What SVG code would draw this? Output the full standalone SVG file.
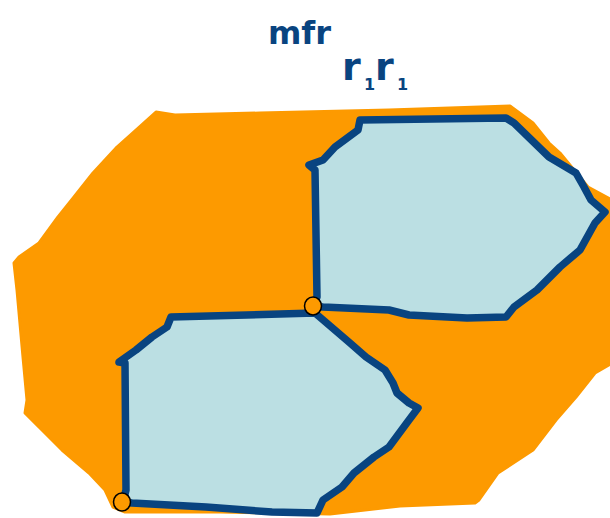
<svg xmlns="http://www.w3.org/2000/svg" width="610" height="518" viewBox="0 0 610 518">
<style>
.blob{fill:#fd9a00;stroke:#fd9a00;stroke-width:3;stroke-linejoin:round}
.cell{fill:#bbdfe3;stroke:#094480;stroke-width:7.5;stroke-linejoin:round;stroke-linecap:round}
.pt{fill:#fd9a00;stroke:#000;stroke-width:1.5}
.lbl{fill:#094480;font-family:"DejaVu Sans",sans-serif;font-weight:bold}
</style>
<rect width="610" height="518" fill="#fff"/>
<g id="region">
<path class="blob" d="M156,112 L175,115 L260,113 L389,110 L510,106 L533,123 L549,143 L560,153 L588,187 L612,200 L612,363 L595,373 L576,397 L556,420 L533,450 L498,473 L479,500 L475,503 L400,506 L330,514 L220,512 L125,512 L113,507 L105,490 L89,473 L62,450 L39,427 L25,413 L27,400 L23,357 L17,290 L14,263 L19,257 L39,243 L58,217 L74,197 L93,173 L117,147 L136,130 Z"/>
</g>
<g id="cell-upper">
<path class="cell" d="M360,120 L506,118 L514,123 L549,157 L576,173 L584,187 L591,200 L605,212 L595,223 L580,250 L560,267 L537,290 L514,307 L506,317 L467,318 L409,315 L389,310 L323,307 L313,306 L317,297 L315,170 L309,165 L323,160 L335,147 L358,130 Z"/>
</g>
<g id="cell-lower">
<path class="cell" d="M171,317 L315,313 L350,343 L366,357 L385,370 L393,383 L397,393 L409,403 L418,408 L409,420 L389,447 L374,457 L354,473 L342,487 L323,500 L317,513 L272,512 L206,507 L132,503 L123,502 L126,490 L125,363 L119,362 L136,350 L152,337 L167,327 Z"/>
</g>
<g id="vertex-1"><ellipse class="pt" cx="313" cy="306" rx="8.5" ry="9"/></g>
<g id="vertex-2"><ellipse class="pt" cx="122" cy="502" rx="8.5" ry="9"/></g>
<g id="label">
<text class="lbl" x="268" y="44" font-size="32">mfr</text>
<text class="lbl" x="342" y="80" font-size="38">r</text>
<text class="lbl" x="364" y="90" font-size="16">1</text>
<text class="lbl" x="375" y="80" font-size="38">r</text>
<text class="lbl" x="397" y="90" font-size="16">1</text>
</g>
</svg>
